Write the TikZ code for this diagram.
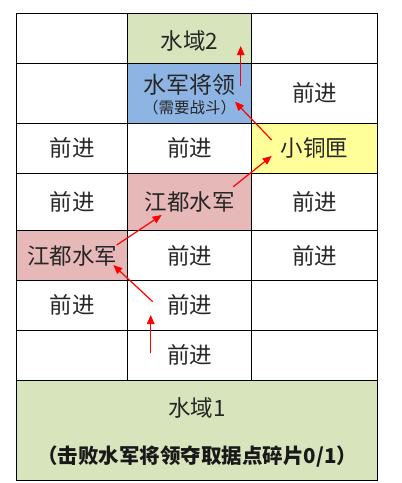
\documentclass[tikz,border=0pt]{standalone}
\usepackage{fontspec}
\newfontfamily\cjk{Noto Sans CJK SC}
\usetikzlibrary{arrows.meta}
\definecolor{wgreen}{HTML}{D8E4BC}
\definecolor{wblue}{HTML}{8DB4E2}
\definecolor{wyellow}{HTML}{FFFF99}
\definecolor{wpink}{HTML}{E6B8B7}
\definecolor{wred}{HTML}{FF0000}
\tikzset{
  cellbox/.style={draw=black, line width=1pt, rectangle, inner sep=0pt, font=\cjk\fontsize{22.5}{24}\selectfont, text=black!85},
  ca/.style={cellbox, minimum width=111pt},
  cb/.style={cellbox, minimum width=124pt},
  cc/.style={cellbox, minimum width=126pt},
  redarrow/.style={draw=wred, line width=1.2pt, -{Triangle[length=9pt,width=7.5pt]}}
}
\begin{document}
\begin{tikzpicture}[x=1pt,y=-1pt]
\useasboundingbox (0,0) rectangle (402,483);
% row 0 (13.3 - 63.3)
\node[ca, minimum height=50pt] (r0a) at (72.2,38.3) {};
\node[cb, minimum height=50pt, fill=wgreen] (r0b) at (189.7,38.3) {};
\node[font=\cjk\fontsize{22.5}{24}\selectfont, text=black!85] (r0bt) at (189.7,41) {水域2};
\node[cc, minimum height=50pt] (r0c) at (314.7,38.3) {};
% row 1 (63.3 - 123.3)
\node[ca, minimum height=60pt] (r1a) at (72.2,93.3) {};
\node[cb, minimum height=60pt, fill=wblue, align=center] (r1b) at (189.7,93.3) {};
\node[font=\cjk\fontsize{23}{24}\selectfont, text=black!85] (r1bt) at (189.7,85) {水军将领};
\node[font=\cjk\fontsize{15.5}{16}\selectfont, text=black!85] (r1bs) at (189.7,108) {（需要战斗）};
\node[cc, minimum height=60pt] (r1c) at (314.7,93.3) {前进};
% row 2 (123.3 - 173.3)
\node[ca, minimum height=50pt] (r2a) at (72.2,148.3) {前进};
\node[cb, minimum height=50pt] (r2b) at (189.7,148.3) {前进};
\node[cc, minimum height=50pt, fill=wyellow] (r2c) at (314.7,148.3) {小铜匣};
% row 3 (173.3 - 230.7)
\node[ca, minimum height=57.4pt] (r3a) at (72.2,202) {前进};
\node[cb, minimum height=57.4pt, fill=wpink] (r3b) at (189.7,202) {江都水军};
\node[cc, minimum height=57.4pt] (r3c) at (314.7,202) {前进};
% row 4 (230.7 - 280.3)
\node[ca, minimum height=49.6pt, fill=wpink] (r4a) at (72.2,255.5) {江都水军};
\node[cb, minimum height=49.6pt] (r4b) at (189.7,255.5) {前进};
\node[cc, minimum height=49.6pt] (r4c) at (314.7,255.5) {前进};
% row 5 (280.3 - 330.3)
\node[ca, minimum height=50pt] (r5a) at (72.2,305.3) {前进};
\node[cb, minimum height=50pt] (r5b) at (189.7,305.3) {前进};
\node[cc, minimum height=50pt] (r5c) at (314.7,305.3) {};
% row 6 (330.3 - 380.3)
\node[ca, minimum height=50pt] (r6a) at (72.2,355.3) {};
\node[cb, minimum height=50pt] (r6b) at (189.7,355.3) {前进};
\node[cc, minimum height=50pt] (r6c) at (314.7,355.3) {};
% bottom (380.3 - 480)
\node[cellbox, minimum width=361pt, minimum height=99.7pt, fill=wgreen] (water1) at (197.2,430.15) {};
\node[font=\cjk\fontsize{22.5}{24}\selectfont, text=black!85] (w1t) at (197.2,408) {水域1};
\node[font=\cjk\bfseries\fontsize{20.5}{22}\selectfont, text=black!90] (w1s) at (197.2,457) {（击败水军将领夺取据点碎片0/1）};
% arrow end points
\coordinate (a1s) at (150.7,353.3);
\coordinate (a1e) at (150.7,315);
\coordinate (a2s) at (152.7,301.7);
\coordinate (a2e) at (113.3,265);
\coordinate (a3s) at (116.7,245);
\coordinate (a3e) at (161.7,215);
\coordinate (a4s) at (233.3,186.7);
\coordinate (a4e) at (271.7,156);
\coordinate (a5s) at (271.7,140);
\coordinate (a5e) at (235,101.7);
\coordinate (a6s) at (240.7,86);
\coordinate (a6e) at (240.7,46);
\draw[redarrow] (a1s) -- (a1e);
\draw[redarrow] (a2s) -- (a2e);
\draw[redarrow] (a3s) -- (a3e);
\draw[redarrow] (a4s) -- (a4e);
\draw[redarrow] (a5s) -- (a5e);
\draw[redarrow] (a6s) -- (a6e);
\end{tikzpicture}
\end{document}
